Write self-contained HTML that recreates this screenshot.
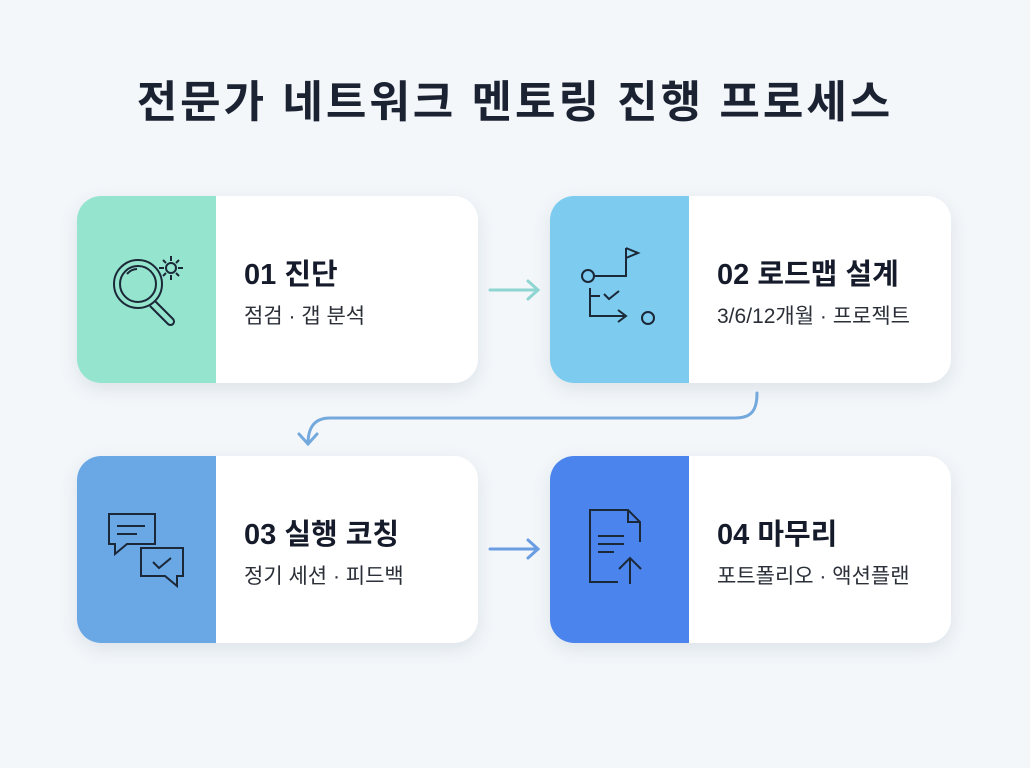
<!DOCTYPE html>
<html><head><meta charset="utf-8"><style>
body{margin:0;width:1030px;height:768px;background:#f3f7fa;font-family:"Liberation Sans","Noto Sans CJK KR",sans-serif;position:relative;overflow:hidden}
.t{position:absolute;left:0;width:1030px;top:66px;text-align:center;font-size:44px;font-weight:bold;color:#1b2232;letter-spacing:3px}
.c{position:absolute;width:401px;height:187px;background:#fff;border-radius:24px;box-shadow:0 6px 18px rgba(60,80,110,.12);overflow:hidden}
.p{position:absolute;left:0;top:0;width:139px;height:100%}
.h{position:absolute;left:167px;top:55px;font-size:29px;font-weight:bold;color:#151b2a}
.s{position:absolute;left:167px;top:104px;font-size:21px;color:#2a2f38}
.p svg{position:absolute;left:28px;top:50px}
</style></head><body>
<div class="t">전문가 네트워크 멘토링 진행 프로세스</div>

<div class="c" style="left:77px;top:196px"><div class="p" style="background:#95e4cd">
<svg width="84" height="84" viewBox="0 0 84 84" fill="none" stroke="#1b2838" stroke-width="2"><circle cx="33" cy="38" r="24"/><circle cx="33" cy="38" r="18"/><path d="M22 28a14 14 0 0 1 10-5"/><path d="M50 55l18 18a3.5 3.5 0 0 1-5 5l-18-18"/><circle cx="66" cy="22" r="5"/><path d="M66 10v5M66 29v5M54 22h5M73 22h5M58 14l3 3M71 27l3 3M74 14l-3 3M58 30l3-3"/></svg>
</div><div class="h">01 진단</div><div class="s">점검 · 갭 분석</div></div>

<div class="c" style="left:550px;top:196px"><div class="p" style="background:#7dcbee">
<svg width="84" height="84" viewBox="0 0 84 84" fill="none" stroke="#1b2838" stroke-width="2"><circle cx="10" cy="30" r="6"/><path d="M16 30h32v-16M48 14v-12M48 2l12 5-12 5"/><path d="M12 42v28h34M40 64l8 6-8 6"/><circle cx="70" cy="72" r="6"/><path d="M12 50h10M26 48l5 5 10-8"/></svg>
</div><div class="h">02 로드맵 설계</div><div class="s">3/6/12개월 · 프로젝트</div></div>

<div class="c" style="left:77px;top:456px"><div class="p" style="background:#6aa7e5">
<svg width="84" height="84" viewBox="0 0 84 84" fill="none" stroke="#1b2838" stroke-width="2"><path d="M4 8h46v30H22l-12 10v-10H4z"/><path d="M12 20h28M12 28h20"/><path d="M36 42h42v28h-6v10l-12-10H36z"/><path d="M48 56l6 6 12-10"/></svg>
</div><div class="h">03 실행 코칭</div><div class="s">정기 세션 · 피드백</div></div>

<div class="c" style="left:550px;top:456px"><div class="p" style="background:#4b84ec">
<svg width="84" height="84" viewBox="0 0 84 84" fill="none" stroke="#1b2838" stroke-width="2"><path d="M40 76H12V4h38l12 12v20"/><path d="M50 4v12h12"/><path d="M20 30h26M20 38h26M20 46h16"/><path d="M52 78V52M41 63l11-11 11 11"/></svg>
</div><div class="h">04 마무리</div><div class="s">포트폴리오 · 액션플랜</div></div>

<svg width="1030" height="768" style="position:absolute;left:0;top:0" fill="none" stroke-width="3" stroke-linecap="round">
<path d="M490 290h48M528 281l10 9-10 9" stroke="#8fd5d1"/>
<path d="M757 393c0 18-6 25-22 25H330c-16 0-22 10-22 26M299 434l9 10 9-10" stroke="#74a9dd"/>
<path d="M490 549h48M528 540l10 9-10 9" stroke="#6a9de2"/>
</svg>
</body></html>
